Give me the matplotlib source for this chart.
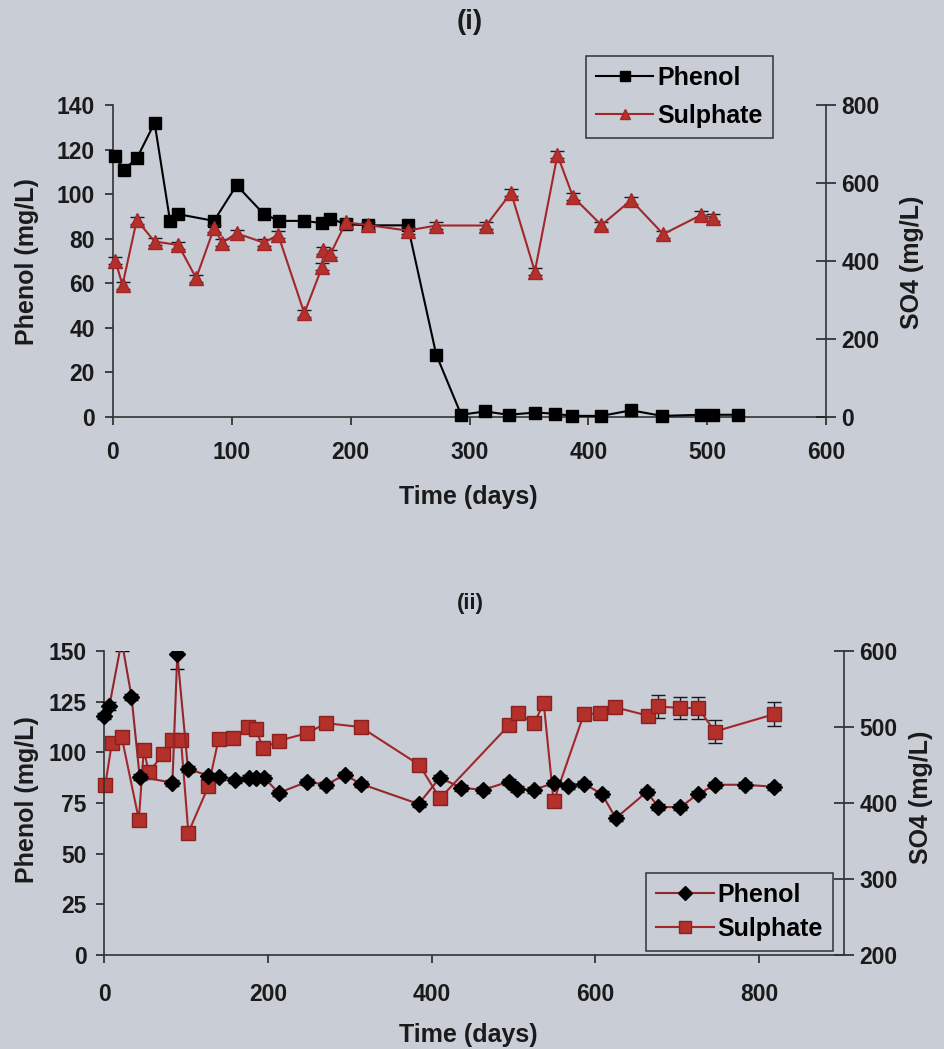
import matplotlib
matplotlib.use("Agg")
import matplotlib.pyplot as plt
from matplotlib.patches import Rectangle
import numpy as np

plt.rcParams['font.family'] = ['Liberation Sans', 'DejaVu Sans']
plt.rcParams['font.weight'] = 'bold'

# ---------------- Chart (i) data ----------------
phenol1_day = [2, 9, 20, 35, 48, 55, 85, 104, 127, 140, 161, 176, 183, 196, 215, 248,
               272, 293, 313, 333, 355, 372, 386, 411, 436, 462, 495, 505, 526]
phenol1_val = [117, 111, 116, 132, 88, 91, 88, 104, 91, 88, 88, 87, 89, 86.5, 86, 86,
               28, 1, 2.5, 1, 2, 1.5, 0.5, 0.5, 3, 0.5, 1, 1, 1]
phenol1_err = [1.5] * len(phenol1_day)

sulph1_day = [2, 8, 20, 35, 55, 70, 85, 92, 104, 127, 139, 161, 176, 177, 183, 196, 215,
              248, 272, 314, 335, 355, 374, 387, 411, 436, 463, 495, 505]
sulph1_val = [401, 338, 505, 450, 441, 356, 484, 447, 471, 447, 467, 266, 385, 428, 418,
              499, 492, 478, 491, 491, 575, 373, 672, 565, 492, 556, 469, 518, 511]
sulph1_err = [9] * len(sulph1_day)

# ---------------- Chart (ii) data ----------------
phenol2_day = [0, 6, 21, 33, 43, 83, 89, 102, 126, 140, 159, 177, 185, 195, 213, 248, 271,
               294, 313, 384, 410, 436, 463, 494, 504, 525, 550, 567, 586, 608, 625, 663,
               677, 704, 726, 746, 783, 819]
phenol2_val = [118, 123, 155, 127.5, 88, 85, 148.5, 92, 88.5, 88, 86.5, 87.5, 87.5, 87.5,
               80, 85.5, 84, 89, 84.5, 74.5, 87.5, 82.5, 81.5, 85.5, 82, 81.5, 85, 83.5,
               84.5, 79.5, 67.5, 80.5, 73, 73, 79.5, 84, 84, 83]
phenol2_err = [1.5, 2, 5, 1.5, 1.5, 1.5, 7.5, 1.5, 1.5, 1.5, 1.5, 1.5, 1.5, 1.5, 1.5, 1.5,
               1.5, 1.5, 1.5, 1.5, 1.5, 1.5, 1.5, 1.5, 1.5, 1.5, 1.5, 1.5, 1.5, 1.5, 1.5,
               1.5, 1.5, 1.5, 1.5, 1.5, 1.5, 1.5]

sulph2_day = [1, 9, 21, 42, 48, 54, 72, 83, 93.5, 102.5, 127, 139.5, 157, 175, 185, 194,
              213.5, 248, 271, 313, 385, 410, 495, 505, 525, 537, 549, 586, 606, 624, 664,
              677, 704, 726, 746, 819]
sulph2_val = [424, 479, 487, 378, 470, 441, 464, 483, 483, 361, 422, 484, 485, 500, 497,
              472, 482, 492, 505, 500, 450, 406, 503, 518, 505, 531, 402, 517, 518, 526,
              515, 527, 525, 525, 494, 517]
sulph2_err = [4] * 31 + [15, 15, 15, 15, 16]

BG = '#c8cdd6'
DARK = '#1a1a1a'
RED_LINE = '#a3272a'
RED_FILL = '#b3302b'

TICK_FS = 16.5
LAB_FS = 18
LEG_FS = 18

fig = plt.figure(figsize=(9.45, 10.49), dpi=100, facecolor=BG)


def style_pair(ax, axr, xpad):
    for a in (ax, axr):
        a.spines['top'].set_visible(False)
        for s in ('left', 'right', 'bottom'):
            a.spines[s].set_color('#333333')
            a.spines[s].set_linewidth(1.2)
    ax.spines['right'].set_visible(False)
    axr.spines['left'].set_visible(False)
    axr.spines['bottom'].set_visible(False)
    ax.tick_params(axis='y', direction='out', length=6, width=1.1, pad=7,
                   labelsize=TICK_FS, colors=DARK)
    ax.tick_params(axis='x', direction='out', length=6, width=1.1, pad=xpad,
                   labelsize=TICK_FS, colors=DARK)
    axr.tick_params(axis='y', direction='inout', length=14, width=1.1, pad=4,
                    labelsize=TICK_FS, colors=DARK)
    for lab in ax.get_xticklabels() + ax.get_yticklabels() + axr.get_yticklabels():
        lab.set_fontweight('bold')


def set_clip(container, ax, clip_top=True):
    rect = Rectangle((-0.05, -0.08), 1.1, 1.08 if clip_top else 1.3,
                     transform=ax.transAxes, facecolor='none', edgecolor='none')
    for art in container.get_children():
        art.set_clip_path(rect)


# ---------------- Chart (i) ----------------
ax1 = fig.add_axes([113 / 945, 1 - 417 / 1049, 713 / 945, 312 / 1049])
ax1b = ax1.twinx()
ax1.set_facecolor(BG)
ax1b.patch.set_visible(False)

e1 = ax1.errorbar(phenol1_day, phenol1_val, yerr=phenol1_err, color='black', lw=1.5,
                  marker='s', ms=9, mfc='black', mec='black', ecolor='black',
                  capsize=4, elinewidth=1, zorder=3)
e2 = ax1b.errorbar(sulph1_day, sulph1_val, yerr=sulph1_err, color=RED_LINE, lw=1.5,
                   marker='^', ms=9.5, mfc=RED_FILL, mec=RED_LINE, ecolor=DARK,
                   capsize=5, elinewidth=1, zorder=3)
set_clip(e1, ax1, clip_top=False)
set_clip(e2, ax1b, clip_top=False)

ax1.set_xlim(0, 600)
ax1.set_ylim(0, 140)
ax1b.set_ylim(0, 800)
ax1.set_xticks(np.arange(0, 601, 100))
ax1.set_yticks(np.arange(0, 141, 20))
ax1b.set_yticks(np.arange(0, 801, 200))
style_pair(ax1, ax1b, xpad=11)

leg1 = ax1b.legend([e1[0], e2[0]], ['Phenol', 'Sulphate'], loc='upper right',
                   bbox_to_anchor=(0.925, 1.157), frameon=True, fancybox=False,
                   edgecolor='#333333', facecolor=BG, framealpha=1,
                   prop={'size': LEG_FS, 'weight': 'bold'}, handlelength=2.3,
                   handletextpad=0.15, labelspacing=0.55, borderpad=0.4,
                   borderaxespad=0, markerscale=0.75)
leg1.get_frame().set_linewidth(1.1)

fig.text(470 / 945, 1 - 22 / 1049, '(i)', ha='center', va='center', fontsize=20,
         fontweight='bold', color=DARK)
fig.text(27 / 945, 1 - 262 / 1049, 'Phenol (mg/L)', rotation=90, ha='center',
         va='center', fontsize=LAB_FS, fontweight='bold', color=DARK)
fig.text(912 / 945, 1 - 262 / 1049, 'SO4 (mg/L)', rotation=90, ha='center',
         va='center', fontsize=LAB_FS, fontweight='bold', color=DARK)
fig.text(468 / 945, 1 - 497 / 1049, 'Time (days)', ha='center', va='center',
         fontsize=LAB_FS, fontweight='bold', color=DARK)

# ---------------- Chart (ii) ----------------
ax2 = fig.add_axes([104.5 / 945, 1 - 955 / 1049, 739.5 / 945, 304 / 1049])
ax2b = ax2.twinx()
ax2.set_zorder(ax2b.get_zorder() + 1)
ax2.patch.set_visible(False)
ax2b.patch.set_visible(True)
ax2b.set_facecolor(BG)

m1 = ax2.errorbar(phenol2_day, phenol2_val, yerr=phenol2_err, color='#92262a', lw=1.5,
                  marker='D', ms=8, mfc='black', mec='black', ecolor='black',
                  capsize=5, elinewidth=1, zorder=4)
m2 = ax2b.errorbar(sulph2_day, sulph2_val, yerr=sulph2_err, color=RED_LINE, lw=1.5,
                   marker='s', ms=10, mfc=RED_FILL, mec='#8a2020', ecolor=DARK,
                   capsize=5, elinewidth=1, zorder=3)
set_clip(m1, ax2, clip_top=True)
set_clip(m2, ax2b, clip_top=True)

ax2.set_xlim(0, 904)
ax2.set_ylim(0, 150)
ax2b.set_ylim(200, 600)
ax2.set_xticks(np.arange(0, 801, 200))
ax2.set_yticks(np.arange(0, 151, 25))
ax2b.set_yticks(np.arange(200, 601, 100))
style_pair(ax2, ax2b, xpad=14)

leg2 = ax2.legend([m1[0], m2[0]], ['Phenol', 'Sulphate'], loc='lower right',
                  bbox_to_anchor=(0.985, 0.013), frameon=True, fancybox=False,
                  edgecolor='#333333', facecolor=BG, framealpha=1,
                  prop={'size': LEG_FS, 'weight': 'bold'}, handlelength=2.3,
                  handletextpad=0.15, labelspacing=0.4, borderpad=0.4,
                  borderaxespad=0, markerscale=0.85)
leg2.get_frame().set_linewidth(1.1)

fig.text(470 / 945, 1 - 604 / 1049, '(ii)', ha='center', va='center', fontsize=16,
         fontweight='bold', color=DARK)
fig.text(27 / 945, 1 - 800 / 1049, 'Phenol (mg/L)', rotation=90, ha='center',
         va='center', fontsize=LAB_FS, fontweight='bold', color=DARK)
fig.text(921 / 945, 1 - 797 / 1049, 'SO4 (mg/L)', rotation=90, ha='center',
         va='center', fontsize=LAB_FS, fontweight='bold', color=DARK)
fig.text(468 / 945, 1 - 1035 / 1049, 'Time (days)', ha='center', va='center',
         fontsize=LAB_FS, fontweight='bold', color=DARK)

fig.savefig('out.png', dpi=100, facecolor=BG)
